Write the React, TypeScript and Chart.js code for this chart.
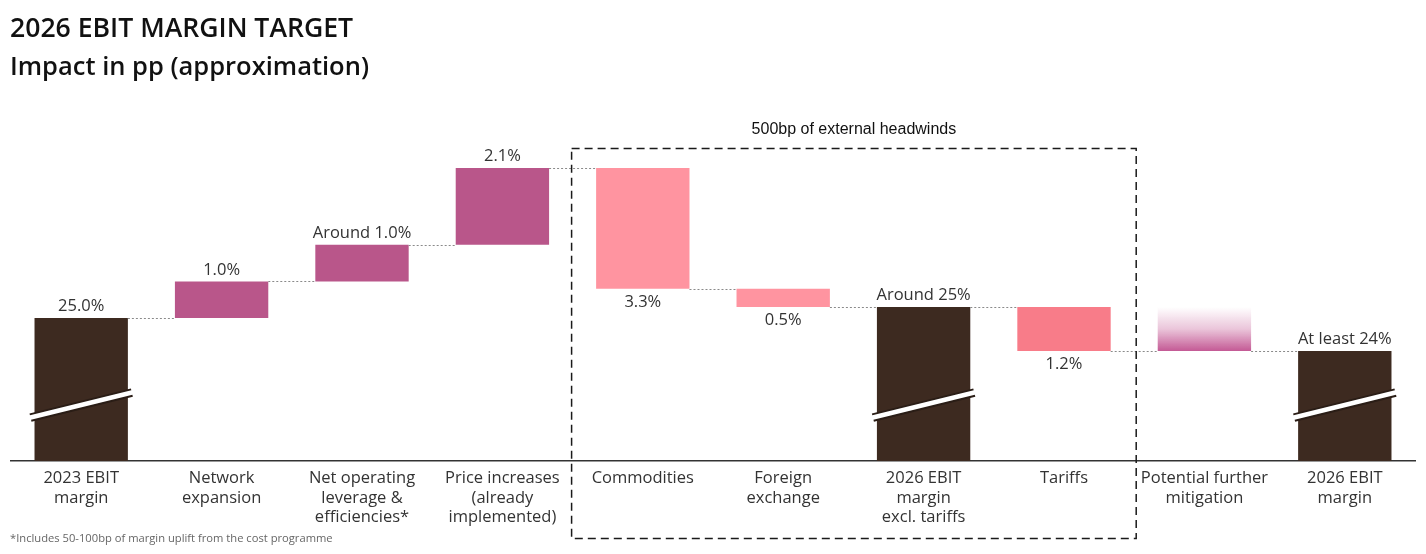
import React, { useEffect, useRef } from 'react';
import { Chart, registerables } from 'chart.js';

Chart.register(...registerables);

// ---------- data ----------
const titleText = '2026 EBIT MARGIN TARGET';
const subtitleText = 'Impact in pp (approximation)';
const footnoteText = '*Includes 50-100bp of margin uplift from the cost programme';
const boxLabel = '500bp of external headwinds';

const categories: string[][] = [
  ['2023 EBIT', 'margin'],
  ['Network', 'expansion'],
  ['Net operating', 'leverage &', 'efficiencies*'],
  ['Price increases', '(already', 'implemented)'],
  ['Commodities'],
  ['Foreign', 'exchange'],
  ['2026 EBIT', 'margin', 'excl. tariffs'],
  ['Tariffs'],
  ['Potential further', 'mitigation'],
  ['2026 EBIT', 'margin'],
];
// kind: total = broken bar from axis, change = step added, potential = shown but not added
const kinds = ['total', 'change', 'change', 'change', 'change', 'change', 'total', 'change', 'potential', 'total'];
const deltas = [25.0, 1.0, 1.0, 2.1, -3.3, -0.5, 0, -1.2, 1.2, 0];
const valueLabels = ['25.0%', '1.0%', 'Around 1.0%', '2.1%', '3.3%', '0.5%', 'Around 25%', '1.2%', '', 'At least 24%'];
const barColors = ['#3D2A20', '#B9568A', '#B9568A', '#B9568A', '#FF94A0', '#FF94A0', '#3D2A20', '#F87C89', 'gradient', '#3D2A20'];

const AXIS_MIN = 21.09;
const AXIS_MAX = 30.96;
const BREAK_VALUE = 22.62;

// ---------- derive floating bars ----------
const bars: [number, number][] = [];
const levels: number[] = [];
let running = 0;
deltas.forEach((d, i) => {
  const k = kinds[i];
  if (k === 'total') {
    if (i === 0) running = d;
    bars.push([AXIS_MIN, running]);
  } else if (k === 'change') {
    bars.push([running, running + d]);
    running = +(running + d).toFixed(2);
  } else {
    bars.push([running, running + d]);
  }
  levels.push(running);
});

const FONT = '"Open Sans", "Noto Sans", sans-serif';

const decorPlugin = {
  id: 'decor',
  afterDatasetsDraw(chart: any) {
    const { ctx, chartArea } = chart;
    const meta = chart.getDatasetMeta(0);
    const xs = chart.scales.x;
    const ys = chart.scales.y;
    ctx.save();

    // connectors
    ctx.strokeStyle = '#8a8a8a';
    ctx.lineWidth = 1;
    ctx.setLineDash([2, 2]);
    for (let i = 0; i < meta.data.length - 1; i++) {
      const a = meta.data[i];
      const b = meta.data[i + 1];
      const y = Math.round(ys.getPixelForValue(levels[i])) + 0.5;
      ctx.beginPath();
      ctx.moveTo(a.x + a.width / 2, y);
      ctx.lineTo(b.x - b.width / 2, y);
      ctx.stroke();
    }
    ctx.setLineDash([]);

    // break marks
    const by = ys.getPixelForValue(BREAK_VALUE);
    meta.data.forEach((el: any, i: number) => {
      if (kinds[i] !== 'total') return;
      const l = el.x - el.width / 2 - 4;
      const r = el.x + el.width / 2 + 4;
      ctx.lineCap = 'butt';
      ctx.beginPath();
      ctx.moveTo(l, by + 12.5);
      ctx.lineTo(r, by - 12.5);
      ctx.strokeStyle = '#2a1d16';
      ctx.lineWidth = 8.5;
      ctx.stroke();
      ctx.beginPath();
      ctx.moveTo(l - 1, by + 12.75);
      ctx.lineTo(r + 1, by - 12.75);
      ctx.strokeStyle = '#ffffff';
      ctx.lineWidth = 4.5;
      ctx.stroke();
    });

    // value labels
    ctx.fillStyle = '#333333';
    ctx.font = `16.5px ${FONT}`;
    ctx.textAlign = 'center';
    meta.data.forEach((el: any, i: number) => {
      const txt = valueLabels[i];
      if (!txt) return;
      const top = Math.min(el.y, el.base);
      const bottom = Math.max(el.y, el.base);
      if (kinds[i] === 'change' && deltas[i] < 0) {
        ctx.textBaseline = 'top';
        ctx.fillText(txt, el.x, bottom + 5);
      } else {
        ctx.textBaseline = 'bottom';
        ctx.fillText(txt, el.x, top - 3);
      }
    });

    // dashed box
    const x0 = xs.getPixelForValue(3.5) - 1;
    const x1 = xs.getPixelForValue(7.5) + 2;
    const y0 = chartArea.top + 48.5;
    const y1 = chartArea.bottom + 77.5;
    ctx.strokeStyle = '#1a1a1a';
    ctx.lineWidth = 1.5;
    ctx.setLineDash([8, 5]);
    ctx.strokeRect(x0, y0, x1 - x0, y1 - y0);
    ctx.setLineDash([]);
    ctx.fillStyle = '#111111';
    ctx.font = '16px "Liberation Sans", Arial, sans-serif';
    ctx.textAlign = 'center';
    ctx.textBaseline = 'middle';
    ctx.fillText(boxLabel, (x0 + x1) / 2, y0 - 19);

    // titles
    ctx.textAlign = 'left';
    ctx.fillStyle = '#111111';
    ctx.font = `600 26.6px ${FONT}`;
    ctx.fillText(titleText, 10, 29);
    ctx.font = `600 25.5px ${FONT}`;
    ctx.fillText(subtitleText, 10, 68);

    // footnote
    ctx.font = `11.2px ${FONT}`;
    ctx.fillStyle = '#666666';
    ctx.fillText(footnoteText, 10, 539);

    ctx.restore();
  },
};

export default function App() {
  const ref = useRef<HTMLCanvasElement | null>(null);
  useEffect(() => {
    if (!ref.current) return;
    const chart = new Chart(ref.current, {
      type: 'bar',
      data: {
        labels: categories,
        datasets: [
          {
            data: bars as any,
            backgroundColor: (c: any) => {
              const col = barColors[c.dataIndex];
              if (col !== 'gradient') return col;
              const ch = c.chart;
              const ys = ch.scales?.y;
              if (!ch.chartArea || !ys) return '#C4649A';
              const [lo, hi] = bars[c.dataIndex];
              const g = ch.ctx.createLinearGradient(0, ys.getPixelForValue(hi), 0, ys.getPixelForValue(lo));
              g.addColorStop(0, 'rgba(196,90,149,0)');
              g.addColorStop(0.5, 'rgba(196,90,149,0.35)');
              g.addColorStop(1, 'rgba(196,90,149,1)');
              return g;
            },
            borderWidth: 0,
            borderSkipped: false,
            categoryPercentage: 1,
            barPercentage: 0.665,
          },
        ],
      },
      options: {
        animation: false,
        responsive: true,
        maintainAspectRatio: false,
        layout: { padding: { top: 100, left: 11, right: 11, bottom: 0 } },
        plugins: {
          legend: { display: false },
          tooltip: { enabled: false },
          title: { display: false },
        },
        scales: {
          x: {
            grid: { display: false, drawTicks: false },
            border: { display: true, color: '#333333', width: 1.5 },
            ticks: {
              color: '#333333',
              font: { family: FONT, size: 16.5, lineHeight: 1.18 },
              padding: 8,
              maxRotation: 0,
              autoSkip: false,
            },
            afterFit: (s: any) => {
              s.height = 93;
            },
          },
          y: {
            display: false,
            min: AXIS_MIN,
            max: AXIS_MAX,
          },
        },
      },
      plugins: [decorPlugin],
    });
    return () => chart.destroy();
  }, []);
  return (
    <div style={{ position: 'absolute', left: 0, top: 0, width: 1426, height: 554, background: '#fff' }}>
      <canvas ref={ref} />
    </div>
  );
}
